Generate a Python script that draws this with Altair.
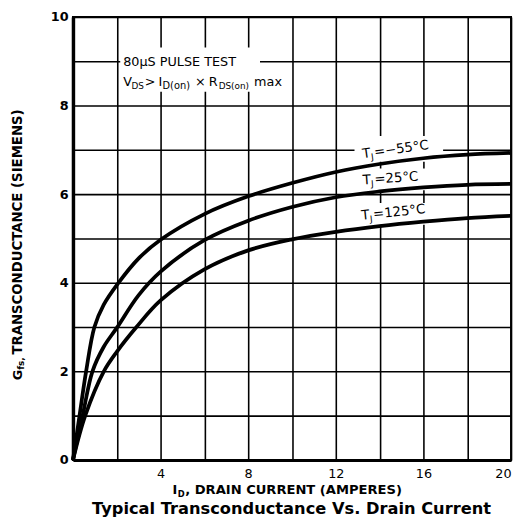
import altair as alt
import pandas as pd

# ---- data (one x list per curve) ----
X_M55 = [0, 0.3, 0.6, 0.98, 1.4, 2.05, 3, 4, 6, 8, 10, 12, 14, 16, 18, 20]
G_M55 = [0, 1.0, 2.0, 3.0, 3.5, 3.98, 4.55, 4.97, 5.55, 5.95, 6.25, 6.5, 6.68, 6.81, 6.89, 6.93]
X_25 = [0, 0.44, 0.89, 1.4, 2, 3, 4, 6, 8, 10, 12, 14, 16, 18, 20]
G_25 = [0, 1.0, 2.0, 2.55, 2.98, 3.72, 4.25, 4.96, 5.4, 5.71, 5.93, 6.06, 6.15, 6.21, 6.23]
X_125 = [0, 0.56, 1.41, 2, 2.9, 4, 6, 8, 10, 12, 14, 16, 18, 20]
G_125 = [0, 1.0, 2.0, 2.44, 3.0, 3.6, 4.3, 4.73, 4.98, 5.15, 5.28, 5.38, 5.46, 5.51]
SERIES = ["-55", "25", "125"]
X_TICKS = list(range(0, 21, 2))
Y_TICKS = list(range(0, 11))

rows = []
for name, xs, ys in zip(SERIES, [X_M55, X_25, X_125], [G_M55, G_25, G_125]):
    for x, y in zip(xs, ys):
        rows.append({"I_D": x, "gfs": y, "Tj": name})
df = pd.DataFrame(rows)

W, H = 445, 450
FONT = "DejaVu Sans"


def px(v):
    return v * W / 20.0


def py(v):
    return H - v * H / 10.0


one = pd.DataFrame({"a": [0]})


def txt(s, x, y, size, weight="normal", angle=0, dx=0, dy=0, align="left", baseline="alphabetic"):
    kw = dict(text=s, fontSize=size, font=FONT, fontWeight=weight, align=align,
              baseline=baseline, color="black", dx=dx, dy=dy)
    if angle:
        kw["angle"] = angle
    return alt.Chart(one).mark_text(**kw).encode(x=alt.value(x), y=alt.value(y))


def box(x1, x2, y1, y2):
    return alt.Chart(one).mark_rect(fill="white").encode(
        x=alt.value(x1), x2=alt.value(x2), y=alt.value(y1), y2=alt.value(y2))


lines = alt.Chart(df).mark_line(interpolate="catmull-rom", strokeWidth=3.8, color="black").encode(
    x=alt.X("I_D:Q", scale=alt.Scale(domain=[0, 20], nice=False),
            axis=alt.Axis(values=X_TICKS, grid=True, gridColor="black", gridWidth=1.6, gridOpacity=1,
                          domainColor="black", domainWidth=3, ticks=False,
                          labelExpr="datum.value % 4 == 0 && datum.value > 0 ? datum.label : ''",
                          labelFlush=True, labelPadding=8, labelFont=FONT, labelFontSize=13,
                          labelColor="black", title=None)),
    y=alt.Y("gfs:Q", scale=alt.Scale(domain=[0, 10], nice=False),
            axis=alt.Axis(values=Y_TICKS, grid=True, gridColor="black", gridWidth=1.6, gridOpacity=1,
                          domainColor="black", domainWidth=3.5, ticks=False,
                          labelExpr="datum.value % 2 == 0 ? datum.label : ''",
                          labelPadding=5, labelFont=FONT, labelFontSize=13, labelFontWeight="bold",
                          labelColor="black", labelBaseline="middle", title=None)),
    detail="Tj:N",
)

# white backgrounds behind annotations (break the grid like the original)
boxes = [
    box(122 - 74, 264 - 74, 44 - 13, 66 - 13),
    box(122 - 74, 287 - 74, 66 - 13, 89 - 13),
    box(360 - 74, 450 - 74, 134 - 13, 160 - 13),
    box(362 - 74, 438 - 74, 167 - 13, 189 - 13),
    box(360 - 74, 446 - 74, 202 - 13, 224 - 13),
]

texts = []
# test conditions box
texts.append(txt("80\u03bcS PULSE TEST", 125 - 74, 63 - 13, 13))
texts.append(txt("V", 125 - 74, 83 - 13, 13))
texts.append(txt("DS", 133.5 - 74, 86 - 13, 9))
texts.append(txt(">", 147 - 74, 83 - 13, 13))
texts.append(txt("I", 161 - 74, 83 - 13, 13))
texts.append(txt("D(on)", 165 - 74, 86 - 13, 10))
texts.append(txt("\u00d7", 198 - 74, 83 - 13, 13))
texts.append(txt("R", 212 - 74, 83 - 13, 13))
texts.append(txt("DS(on)", 222 - 74, 86 - 13, 9))
texts.append(txt("max", 258 - 74, 83 - 13, 13))

# temperature labels (anchored in data units)
for label, ax, ay, ang in [("=\u221255\u00b0C", 13.24, 6.81, 352),
                           ("=25\u00b0C", 13.24, 6.22, 356),
                           ("=125\u00b0C", 13.19, 5.42, 354)]:
    X, Y = px(ax), py(ay)
    texts.append(txt("T", X, Y, 13.5, angle=ang))
    texts.append(txt("J", X, Y, 9, angle=ang, dx=8.3, dy=3))
    texts.append(txt(label, X, Y, 13.5, angle=ang, dx=12))

# y axis title (rotated pieces)
texts.append(txt("G", -52, 382 - 13, 13, weight="bold", angle=270))
texts.append(txt("fs,", -52, 371.5 - 13, 9, weight="bold", angle=270, dy=2.5))
texts.append(txt("TRANSCONDUCTANCE (SIEMENS)", -52, 356 - 13, 13.5, weight="bold", angle=270))

# x axis title
texts.append(txt("I", 175 - 74, 498 - 13, 13, weight="bold"))
texts.append(txt("D", 180.5 - 74, 501 - 13, 8.5, weight="bold"))
texts.append(txt(", DRAIN CURRENT (AMPERES)", 188 - 74, 498 - 13, 13.3, weight="bold"))

# chart caption
texts.append(txt("Typical Transconductance Vs. Drain Current", 296 - 74, 518 - 13, 16.5,
                 weight="bold", align="center"))

chart = alt.layer(*boxes, lines, *texts).properties(
    width=W, height=H,
    autosize=alt.AutoSizeParams(type="none"),
    padding={"left": 66, "top": 5, "right": 2, "bottom": 60},
    background="white",
).configure_view(stroke="black", strokeWidth=2)

chart.save("out.html", embed_options={"renderer": "svg", "actions": False})
